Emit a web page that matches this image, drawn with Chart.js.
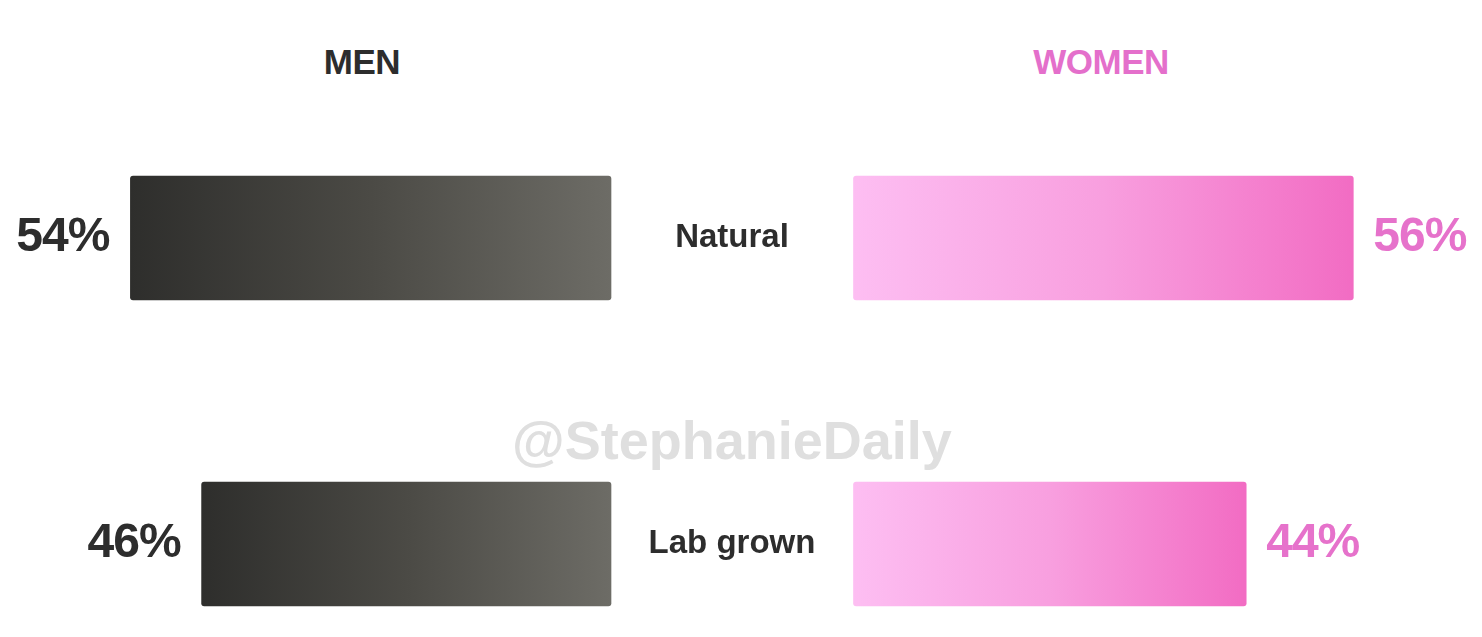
<!DOCTYPE html>
<html lang="en">
<head>
    <meta charset="UTF-8">
    <title>Natural vs Lab grown</title>
    <script src="https://cdn.jsdelivr.net/npm/chart.js"></script>
    <style>
        body {
            margin: 0;
            background: #fff;
            font-family: "Liberation Sans", Arial, sans-serif;
            overflow: hidden;
        }
        .stage {
            position: relative;
            width: 1482px;
            height: 637px;
        }
        .title {
            position: absolute;
            top: 62px;
            transform: translate(-50%, -50%);
            font-weight: bold;
            font-size: 35px;
            letter-spacing: -0.5px;
            white-space: nowrap;
        }
        .watermark {
            position: absolute;
            left: 732px;
            top: 440px;
            transform: translate(-50%, -50%);
            font-weight: bold;
            font-size: 54px;
            color: #dfdfdf;
            white-space: nowrap;
        }
        #men-wrap { position: absolute; left: 0; top: 0; width: 843px; height: 637px; }
        #women-wrap { position: absolute; left: 843px; top: 0; width: 639px; height: 637px; }
    </style>
</head>
<body>
    <div class="stage">
        <div class="title" style="left:362px;color:#2d2d2d">MEN</div>
        <div class="title" style="left:1101px;color:#e46fcb">WOMEN</div>
        <div class="watermark">@StephanieDaily</div>
        <div id="men-wrap"><canvas id="men"></canvas></div>
        <div id="women-wrap"><canvas id="women"></canvas></div>
    </div>

    <script>
        // data
        const categories = ['Natural', 'Lab grown'];
        const menValues = [54, 46];
        const womenValues = [56, 44];
        const axisMax = 60;

        const menText = '#2d2d2d';
        const womenText = '#e672cb';

        // gradient across each bar, from its tip to its base
        function barGradient(stops) {
            return function (ctx) {
                const chart = ctx.chart;
                const x = chart.scales.x;
                if (!x || ctx.raw === undefined) return stops[0];
                const a = x.getPixelForValue(0);
                const b = x.getPixelForValue(ctx.raw);
                if (!isFinite(a) || !isFinite(b) || a === b) return stops[0];
                const g = chart.ctx.createLinearGradient(Math.min(a, b), 0, Math.max(a, b), 0);
                stops.forEach((c, i) => g.addColorStop(i / (stops.length - 1), c));
                return g;
            };
        }

        // percentage next to the end of each bar
        function valueLabels(color, side) {
            return {
                id: 'valueLabels',
                afterDatasetsDraw(chart) {
                    const c = chart.ctx;
                    c.save();
                    c.font = 'bold 48px "Liberation Sans", Arial, sans-serif';
                    c.letterSpacing = '-1px';
                    c.fillStyle = color;
                    c.textBaseline = 'middle';
                    c.textAlign = side === 'left' ? 'right' : 'left';
                    chart.getDatasetMeta(0).data.forEach((bar, i) => {
                        const v = chart.data.datasets[0].data[i];
                        const x = side === 'left' ? bar.x - 21 : bar.x + 20;
                        c.fillText(v + '%', x, bar.y);
                    });
                    c.restore();
                }
            };
        }

        // category names in the gap between both sides
        const categoryLabels = {
            id: 'categoryLabels',
            afterDatasetsDraw(chart) {
                const c = chart.ctx;
                const y = chart.scales.y;
                c.save();
                c.font = 'bold 33px "Liberation Sans", Arial, sans-serif';
                c.fillStyle = menText;
                c.textAlign = 'center';
                c.textBaseline = 'middle';
                categories.forEach((cat, i) => {
                    c.fillText(cat, 732, y.getPixelForValue(i));
                });
                c.restore();
            }
        };

        function makeOptions(reverse, padding) {
            return {
                indexAxis: 'y',
                responsive: true,
                maintainAspectRatio: false,
                animation: false,
                layout: { padding: padding },
                plugins: { legend: { display: false }, tooltip: { enabled: false } },
                scales: {
                    x: { display: false, min: 0, max: axisMax, reverse: reverse },
                    y: { display: false, offset: false }
                }
            };
        }

        new Chart(document.getElementById('men'), {
            type: 'bar',
            data: {
                labels: categories,
                datasets: [{
                    data: menValues,
                    backgroundColor: barGradient(['#2e2e2c', '#4b4a45', '#6d6c66']),
                    barThickness: 124,
                    borderRadius: 3,
                    borderSkipped: false,
                    clip: false
                }]
            },
            options: makeOptions(true, { left: 77, right: 232, top: 238, bottom: 93 }),
            plugins: [valueLabels(menText, 'left'), categoryLabels]
        });

        new Chart(document.getElementById('women'), {
            type: 'bar',
            data: {
                labels: categories,
                datasets: [{
                    data: womenValues,
                    backgroundColor: barGradient(['#fdbef2', '#f89fdf', '#f26cc3']),
                    barThickness: 124,
                    borderRadius: 3,
                    borderSkipped: false,
                    clip: false
                }]
            },
            options: makeOptions(false, { left: 10.5, right: 93, top: 238, bottom: 93 }),
            plugins: [valueLabels(womenText, 'right')]
        });
    </script>
</body>
</html>
